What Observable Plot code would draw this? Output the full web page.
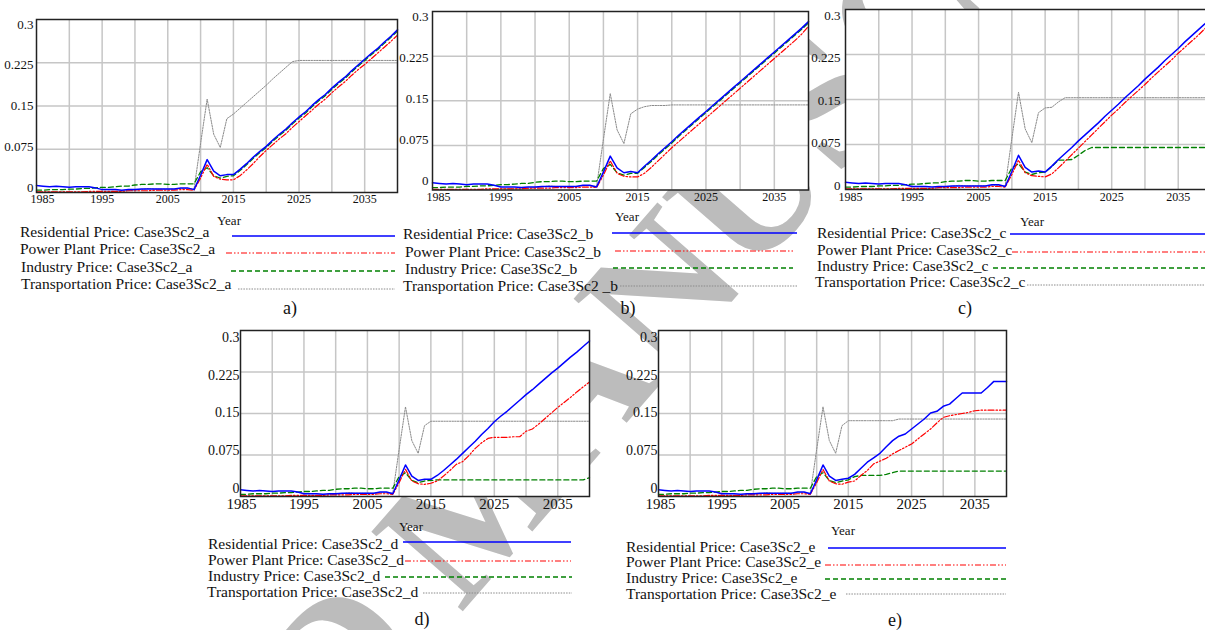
<!DOCTYPE html>
<html>
<head>
<meta charset="utf-8">
<script src="https://cdn.jsdelivr.net/npm/d3@7"></script>
<script src="https://cdn.jsdelivr.net/npm/@observablehq/plot@0.6"></script>
<style>
  html, body { margin: 0; padding: 0; background: #fff; overflow: hidden; }
  #fig { position: relative; width: 1205px; height: 630px; overflow: hidden; background: #fff;
         font-family: "Liberation Serif", "Times New Roman", serif; }
  #fig > svg { position: absolute; }
  #fig svg text { font-family: "Liberation Serif", "Times New Roman", serif !important; }
</style>
</head>
<body>
<div id="fig"></div>
<script>
// ---- Time axis -------------------------------------------------------------
const years = d3.range(1985, 2041);           // 1985 … 2040, one point per year
const xGrid = [1990, 1995, 2000, 2005, 2010, 2015, 2020, 2025, 2030, 2035];
const xTicks = [1985, 1995, 2005, 2015, 2025, 2035];
const yGrid = [0.075, 0.15, 0.225];
const yTicks = [0, 0.075, 0.15, 0.225, 0.3];
const yTickLabels = ["0", "0.075", "0.15", "0.225", "0.3"];

// ---- Historical prices 1985–2014 (common to every scenario) -----------------
const residentialHist = [0.012,0.011,0.010,0.011,0.010,0.009,0.010,0.010,0.010,0.008,
                         0.005,0.005,0.005,0.004,0.005,0.005,0.006,0.006,0.006,0.006,
                         0.006,0.006,0.008,0.008,0.005,0.030,0.057,0.037,0.029,0.031];
const powerHist       = [0.001,0.001,0.001,0.001,0.001,0.001,0.001,0.001,0.002,0.002,
                         0.002,0.002,0.002,0.002,0.003,0.003,0.003,0.003,0.004,0.004,
                         0.004,0.004,0.005,0.005,0.004,0.025,0.049,0.028,0.023,0.022];
const industryHist    = [0.004,0.004,0.005,0.005,0.005,0.006,0.006,0.007,0.007,0.008,
                         0.009,0.009,0.010,0.011,0.011,0.013,0.014,0.014,0.015,0.015,
                         0.014,0.014,0.015,0.015,0.015,0.036,0.043,0.029,0.025,0.028];
const transportHist   = [0.001,0.001,0.001,0.001,0.001,0.001,0.001,0.001,0.001,0.001,
                         0.002,0.002,0.002,0.002,0.003,0.004,0.005,0.007,0.006,0.006,
                         0.006,0.006,0.007,0.007,0.006,0.085,0.162,0.101,0.078,0.128];

// ---- Scenario projections 2015–2040 ------------------------------------------
const residentialA = [0.031,0.040,0.050,0.061,0.071,0.080,0.091,0.101,0.110,0.121,0.131,0.140,0.151,
                      0.161,0.170,0.181,0.191,0.200,0.211,0.221,0.231,0.241,0.250,0.261,0.271,0.282];
const powerA       = [0.022,0.029,0.039,0.050,0.062,0.073,0.083,0.093,0.102,0.113,0.123,0.133,0.143,
                      0.153,0.162,0.173,0.183,0.192,0.203,0.213,0.222,0.232,0.242,0.252,0.262,0.273];
const industryA    = [0.029,0.038,0.048,0.059,0.069,0.078,0.089,0.099,0.108,0.119,0.129,0.138,0.149,
                      0.159,0.168,0.179,0.189,0.198,0.209,0.219,0.229,0.239,0.248,0.259,0.269,0.280];
const transportA   = [0.136,0.146,0.156,0.166,0.176,0.186,0.197,0.207,0.217,0.227,0.229,0.229,0.229,
                      0.229,0.229,0.229,0.229,0.229,0.229,0.229,0.229,0.229,0.229,0.229,0.229,0.229];

const residentialB = [0.029,0.040,0.050,0.061,0.071,0.081,0.092,0.102,0.112,0.122,0.132,0.142,0.152,
                      0.162,0.172,0.182,0.192,0.202,0.212,0.222,0.232,0.242,0.252,0.262,0.272,0.283];
const powerB       = [0.022,0.028,0.038,0.049,0.060,0.071,0.081,0.091,0.101,0.111,0.121,0.131,0.141,
                      0.151,0.161,0.171,0.181,0.191,0.201,0.211,0.221,0.231,0.241,0.251,0.262,0.275];
const industryB    = [0.028,0.038,0.048,0.059,0.069,0.079,0.090,0.100,0.110,0.120,0.130,0.140,0.150,
                      0.160,0.170,0.180,0.190,0.200,0.210,0.220,0.230,0.240,0.250,0.260,0.270,0.281];
const transportB   = [0.136,0.140,0.142,0.142,0.142,0.143,0.143,0.143,0.143,0.143,0.143,0.143,0.143,
                      0.143,0.143,0.143,0.143,0.143,0.143,0.143,0.143,0.143,0.143,0.143,0.143,0.143];

const residentialC = [0.029,0.039,0.050,0.060,0.070,0.081,0.091,0.101,0.111,0.122,0.132,0.142,0.153,
                      0.163,0.173,0.184,0.194,0.204,0.215,0.225,0.235,0.246,0.256,0.266,0.276,0.287];
const powerC       = [0.021,0.026,0.036,0.047,0.058,0.069,0.080,0.091,0.102,0.113,0.124,0.134,0.145,
                      0.155,0.165,0.175,0.186,0.196,0.206,0.216,0.227,0.237,0.247,0.257,0.268,0.278];
const industryC    = [0.029,0.038,0.049,0.049,0.050,0.057,0.065,0.070,0.070,0.070,0.070,0.070,0.070,
                      0.070,0.070,0.070,0.070,0.070,0.070,0.070,0.070,0.070,0.070,0.070,0.070,0.070];
const transportC   = [0.136,0.137,0.146,0.153,0.153,0.153,0.153,0.153,0.153,0.153,0.153,0.153,0.153,
                      0.153,0.153,0.153,0.153,0.153,0.153,0.153,0.153,0.153,0.153,0.153,0.153,0.153];

const residentialD = [0.031,0.038,0.047,0.057,0.067,0.078,0.089,0.100,0.112,0.123,0.135,0.145,0.154,
                      0.164,0.174,0.184,0.193,0.203,0.213,0.223,0.232,0.242,0.252,0.261,0.271,0.281];
const powerD       = [0.024,0.028,0.037,0.047,0.058,0.063,0.074,0.087,0.097,0.105,0.107,0.107,0.107,
                      0.108,0.108,0.118,0.122,0.131,0.141,0.151,0.161,0.170,0.179,0.189,0.198,0.207];
const industryD    = [0.029,0.030,0.030,0.030,0.030,0.030,0.030,0.030,0.030,0.030,0.030,0.030,0.030,
                      0.030,0.030,0.030,0.030,0.030,0.030,0.030,0.030,0.030,0.030,0.030,0.030,0.034];
const transportD   = [0.136,0.136,0.136,0.136,0.136,0.136,0.136,0.136,0.136,0.136,0.136,0.136,0.136,
                      0.136,0.136,0.136,0.136,0.136,0.136,0.136,0.136,0.136,0.136,0.136,0.136,0.136];

const residentialE = [0.033,0.040,0.051,0.062,0.070,0.078,0.090,0.101,0.109,0.113,0.122,0.131,0.140,
                      0.151,0.154,0.163,0.167,0.177,0.187,0.187,0.187,0.187,0.197,0.208,0.208,0.208];
const powerE       = [0.026,0.028,0.038,0.047,0.059,0.064,0.069,0.077,0.083,0.089,0.095,0.104,0.113,
                      0.122,0.133,0.143,0.146,0.148,0.150,0.152,0.155,0.156,0.156,0.156,0.156,0.156];
const industryE    = [0.030,0.036,0.038,0.038,0.038,0.038,0.040,0.043,0.046,0.046,0.046,0.046,0.046,
                      0.046,0.046,0.046,0.046,0.046,0.046,0.046,0.046,0.046,0.046,0.046,0.046,0.046];
const transportE   = [0.137,0.137,0.137,0.137,0.137,0.137,0.137,0.137,0.140,0.140,0.140,0.140,0.140,
                      0.140,0.140,0.140,0.140,0.140,0.140,0.140,0.140,0.140,0.140,0.140,0.140,0.140];

// ---- Series names and legend labels ------------------------------------------
const sectors = ["Residential Price", "Power Plant Price", "Industry Price", "Transportation Price"];
const legendA = ["Residential Price: Case3Sc2_a", "Power Plant Price: Case3Sc2_a", "Industry Price: Case3Sc2_a", "Transportation Price: Case3Sc2_a"];
const legendB = ["Residential Price: Case3Sc2_b", "Power Plant Price: Case3Sc2_b", "Industry Price: Case3Sc2_b", "Transportation Price: Case3Sc2 _b"];
const legendC = ["Residential Price: Case3Sc2_c", "Power Plant Price: Case3Sc2_c", "Industry Price: Case3Sc2_c", "Transportation Price: Case3Sc2_c"];
const legendD = ["Residential Price: Case3Sc2_d", "Power Plant Price: Case3Sc2_d", "Industry Price: Case3Sc2_d", "Transportation Price: Case3Sc2_d"];
const legendE = ["Residential Price: Case3Sc2_e", "Power Plant Price: Case3Sc2_e", "Industry Price: Case3Sc2_e", "Transportation Price: Case3Sc2_e"];
const panelLetters = ["a)", "b)", "c)", "d)", "e)"];
const watermark = "ACCEPTED MANUSCRIPT";

// ---- Styles -------------------------------------------------------------------
const lineStyle = {
  "Residential Price":    {stroke: "#0000ff", strokeWidth: 1.5, dash: null},
  "Power Plant Price":    {stroke: "#ff0000", strokeWidth: 1.2, dash: "6,2,1.5,2,1.5,2"},
  "Industry Price":       {stroke: "#008000", strokeWidth: 1.3, dash: "5,3"},
  "Transportation Price": {stroke: "#8a8a8a", strokeWidth: 1,   dash: "1.5,1.2"}
};
const FONT = '"Liberation Serif", "Times New Roman", serif';

// ---- Panel layout (frame edges in page pixels) ----------------------------------
const panels = [
  {proj: [residentialA, powerA, industryA, transportA], legend: legendA,
   x0: 36, x1: 397, y0: 19, y1: 192, xFont: 12, yFont: 13, xDy: 10, firstDx: 6, yGap: 3, yOff: [5, -5],
   year: [229, 220], letter: [290, 308],
   rows: [[20, 231, 232, 395, 236], [20, 248, 226, 395, 253], [21, 266, 231, 395, 271], [21, 283, 238, 395, 289]]},
  {proj: [residentialB, powerB, industryB, transportB], legend: legendB,
   x0: 432, x1: 808, y0: 10.5, y1: 189, xFont: 12, yFont: 13, xDy: 11, firstDx: 6, yGap: 4, yOff: [5, -9],
   year: [627, 216], letter: [628, 308],
   rows: [[403, 233, 612, 797, 233], [405, 251, 615, 793, 251], [405, 268, 613, 793, 268], [403, 285, 620, 797, 286]]},
  {proj: [residentialC, powerC, industryC, transportC], legend: legendC,
   x0: 845, x1: 1211, y0: 9, y1: 189, xFont: 12, yFont: 13, xDy: 11, firstDx: 5, yGap: 5, yOff: [6, -4],
   year: [1032, 221], letter: [965, 308],
   rows: [[817, 232, 1010, 1205, 234], [817, 249, 1012, 1205, 252], [817, 265, 993, 1205, 268], [815, 281, 1027, 1205, 285]]},
  {proj: [residentialD, powerD, industryD, transportD], legend: legendD,
   x0: 240, x1: 589, y0: 330, y1: 496, xFont: 15, yFont: 14, xDy: 12, firstDx: 1, yGap: 1, yOff: [7, -8],
   year: [411, 526], letter: [422, 619],
   rows: [[208, 543, 403, 571, 542], [208, 559, 405, 571, 561], [208, 575, 385, 572, 577], [207, 591, 423, 572, 593]]},
  {proj: [residentialE, powerE, industryE, transportE], legend: legendE,
   x0: 658, x1: 1006, y0: 330, y1: 496, xFont: 15, yFont: 14, xDy: 12, firstDx: 2, yGap: 1, yOff: [7, -8],
   year: [843, 530], letter: [895, 620],
   rows: [[626, 546, 828, 1006, 548], [626, 561, 825, 1006, 565], [626, 577, 825, 1006, 579], [626, 593, 846, 1006, 594]]}
];
const hist = [residentialHist, powerHist, industryHist, transportHist];

const fig = document.getElementById("fig");

// Diagonal watermark behind the charts (plot areas are opaque white)
const wm = d3.create("svg").attr("width", 1205).attr("height", 630).style("left", "0px").style("top", "0px");
wm.append("text")
  .attr("transform", "translate(523,542) rotate(-49)")
  .attr("text-anchor", "middle")
  .attr("font-family", FONT)
  .attr("font-weight", "bold")
  .attr("font-size", 185)
  .attr("fill", "#bcbcbc")
  .text(watermark);
fig.appendChild(wm.node());

// One Plot chart per scenario
panels.forEach((p) => {
  const mL = 45, mR = 4, mT = 12, mB = 24;
  const rows = [];
  sectors.forEach((s, k) => {
    const vals = hist[k].concat(p.proj[k]);
    vals.forEach((v, i) => rows.push({year: years[i], value: v, sector: s}));
  });
  const lines = sectors.slice().reverse().map(s => Plot.line(rows.filter(r => r.sector === s), {
    x: "year", y: "value",
    stroke: lineStyle[s].stroke, strokeWidth: lineStyle[s].strokeWidth,
    strokeDasharray: lineStyle[s].dash || undefined, strokeLinejoin: "round"
  }));
  const yLabelMarks = yTicks.map((t, i) => Plot.text([t], {
    y: d => d, frameAnchor: "left", textAnchor: "end", dx: -p.yGap,
    dy: p.yOff[1] + (p.yOff[0] - p.yOff[1]) * (t / 0.3),
    text: () => yTickLabels[i], fontSize: p.yFont
  }));
  const xLabelMarks = [
    Plot.text(xTicks.slice(0, 1), {x: d => d, frameAnchor: "bottom", dy: p.xDy, dx: p.firstDx,
      text: d => String(d), fontSize: p.xFont}),
    Plot.text(xTicks.slice(1), {x: d => d, frameAnchor: "bottom", dy: p.xDy,
      text: d => String(d), fontSize: p.xFont})
  ];
  const chart = Plot.plot({
    width: mL + (p.x1 - p.x0) + mR,
    height: mT + (p.y1 - p.y0) + mB,
    marginLeft: mL, marginRight: mR, marginTop: mT, marginBottom: mB,
    x: {domain: [1985, 2040], axis: null},
    y: {domain: [0, 0.3], axis: null},
    style: {background: "transparent", overflow: "visible", color: "#111"},
    marks: [
      Plot.frame({fill: "white", stroke: "none"}),
      Plot.ruleX(xGrid, {stroke: "#c6c6c6", strokeWidth: 1.5}),
      Plot.ruleY(yGrid, {stroke: "#c6c6c6", strokeWidth: 1.5}),
      ...lines,
      Plot.frame({stroke: "#222", strokeWidth: 1.5}),
      ...yLabelMarks,
      ...xLabelMarks
    ]
  });
  chart.style.left = (p.x0 - mL) + "px";
  chart.style.top = (p.y0 - mT) + "px";
  fig.appendChild(chart);
});

// Legends, axis titles and panel letters
const fg = d3.create("svg").attr("width", 1205).attr("height", 630)
  .style("left", "0px").style("top", "0px").style("pointer-events", "none")
  .attr("font-family", FONT);
panels.forEach((p, idx) => {
  fg.append("text").attr("x", p.year[0]).attr("y", p.year[1]).attr("text-anchor", "middle")
    .attr("dominant-baseline", "central").attr("font-size", 13).attr("fill", "#111").text("Year");
  fg.append("text").attr("x", p.letter[0]).attr("y", p.letter[1]).attr("text-anchor", "middle")
    .attr("dominant-baseline", "central").attr("font-size", 18).attr("fill", "#111").text(panelLetters[idx]);
  p.rows.forEach((r, k) => {
    const st = lineStyle[sectors[k]];
    fg.append("text").attr("x", r[0]).attr("y", r[1]).attr("dominant-baseline", "central")
      .attr("font-size", 15.5).attr("fill", "#111").text(p.legend[k]);
    fg.append("line").attr("x1", r[2]).attr("x2", r[3]).attr("y1", r[4]).attr("y2", r[4])
      .attr("stroke", st.stroke).attr("stroke-width", st.strokeWidth)
      .attr("stroke-dasharray", st.dash);
  });
});
fig.appendChild(fg.node());
</script>
</body>
</html>
